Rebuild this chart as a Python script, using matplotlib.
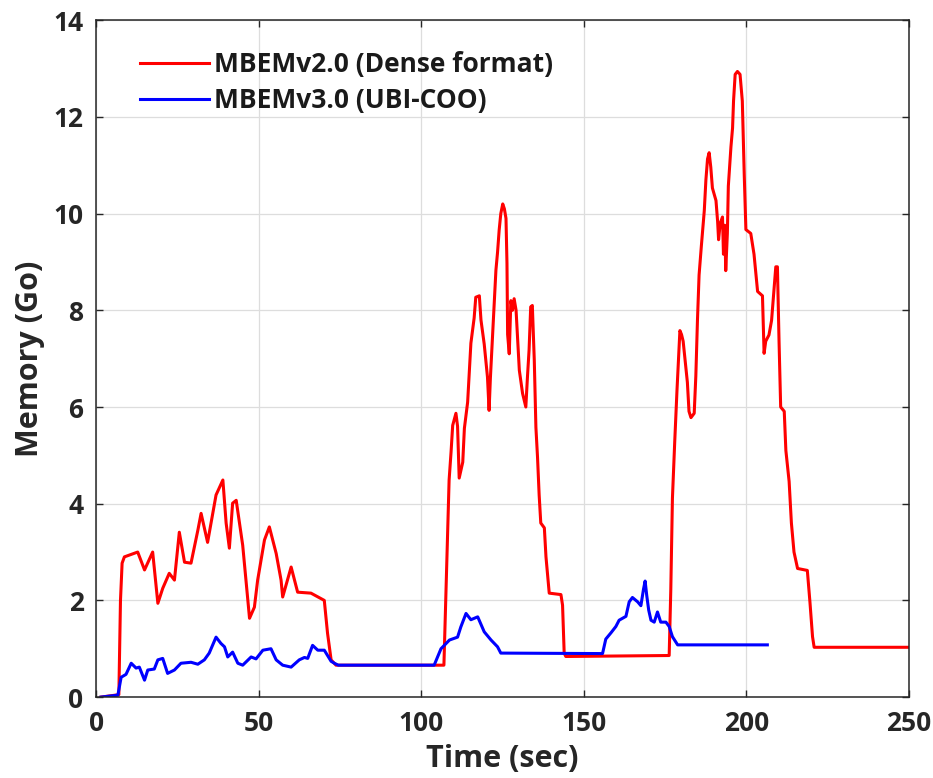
import matplotlib.pyplot as plt

# Mémoire consommée au cours du temps
t_dense = [1.5, 7.0, 7.5, 8.0, 8.7, 12.8, 14.9, 17.4, 19.0, 20.5, 22.5, 24.1, 25.6, 27.2,
           29.2, 31.3, 32.3, 34.3, 36.9, 39.0, 40.0, 41.0, 42.0, 43.1, 45.1, 47.2, 48.7,
           49.7, 51.8, 53.3, 55.4, 56.9, 57.4, 60.0, 62.0, 66.1, 70.2, 71.2, 72.3, 73.8,
           107.0, 107.6, 108.1, 108.6, 109.2, 109.7, 110.7, 111.2, 111.7, 112.8, 113.3,
           114.3, 114.8, 115.3, 116.3, 116.8, 117.9, 118.4, 119.4, 120.4, 120.9, 121.3,
           122.0, 122.5, 123.0, 123.5, 124.0, 124.5, 125.1, 125.6, 126.1, 126.4, 126.6,
           127.1, 127.6, 128.1, 128.6, 129.2, 129.7, 130.2, 131.2, 132.2, 132.7, 133.2,
           133.7, 134.2, 134.8, 135.3, 135.8, 136.3, 136.8, 137.9, 138.4, 139.4, 143.0,
           143.5, 144.0, 144.5, 176.3, 176.8, 177.3, 178.0, 178.7, 179.2, 179.6, 180.1,
           180.6, 181.4, 181.9, 182.4, 183.0, 184.0, 184.5, 185.0, 185.5, 186.2, 187.1,
           187.6, 188.1, 188.6, 189.1, 189.6, 190.7, 191.2, 191.5, 192.0, 192.7, 193.0,
           193.4, 193.7, 194.2, 194.5, 195.3, 195.8, 196.1, 196.6, 197.3, 198.1, 198.8,
           199.4, 199.9, 201.4, 202.4, 203.0, 203.5, 205.0, 205.5, 206.0, 207.0, 207.8,
           208.4, 209.1, 209.6, 210.1, 210.6, 211.7, 212.2, 213.2, 213.9, 214.7, 215.8,
           218.8, 219.6, 220.4, 220.9, 250.0]
m_dense = [0.0, 0.05, 2.0, 2.77, 2.9, 3.0, 2.63, 3.0, 1.94, 2.25, 2.56, 2.42, 3.41, 2.79,
           2.77, 3.45, 3.8, 3.2, 4.18, 4.49, 3.6, 3.08, 4.01, 4.07, 3.14, 1.63, 1.86,
           2.42, 3.25, 3.52, 2.97, 2.42, 2.07, 2.69, 2.17, 2.15, 2.0, 1.32, 0.77, 0.66,
           0.66, 2.07, 3.2, 4.49, 5.07, 5.62, 5.87, 5.6, 4.53, 4.86, 5.56, 6.1, 6.7,
           7.32, 7.84, 8.27, 8.3, 7.8, 7.3, 6.62, 5.93, 6.6, 7.53, 8.21, 8.83, 9.2, 9.66,
           10.0, 10.2, 10.1, 9.9, 8.97, 7.5, 7.1, 8.2, 8.0, 8.24, 8.0, 7.38, 6.76, 6.28,
           6.0, 6.62, 7.18, 8.07, 8.1, 6.97, 5.58, 4.96, 4.18, 3.6, 3.5, 2.9, 2.15, 2.12,
           1.9, 0.91, 0.84, 0.86, 2.23, 4.11, 5.27, 6.34, 7.02, 7.58, 7.5, 7.36,
           6.85, 6.51, 5.91, 5.78, 5.87, 6.64, 7.79, 8.73, 9.33, 10.06, 10.7, 11.13,
           11.26, 10.96, 10.53, 10.27, 9.84, 9.46, 9.8, 9.93, 9.16, 9.76, 8.82, 9.59,
           10.57, 11.38, 11.77, 12.33, 12.88, 12.94, 12.88, 12.33, 10.79, 9.67, 9.59,
           9.16, 8.73, 8.39, 8.3, 7.11, 7.36, 7.49, 7.79, 8.3, 8.9, 8.9, 7.36, 6.0, 5.91,
           5.1, 4.46, 3.6, 3.0, 2.66, 2.62, 1.97, 1.25, 1.03, 1.03]

t_coo = [1.5, 6.7, 7.7, 9.2, 10.8, 12.3, 13.3, 14.9, 15.9, 17.9, 19.0, 20.5, 22.0, 24.1,
         26.1, 29.2, 31.3, 33.3, 34.8, 36.9, 38.4, 39.5, 40.5, 42.0, 43.6, 45.1, 47.7,
         49.2, 51.3, 53.8, 55.4, 57.4, 60.0, 62.5, 64.1, 65.1, 66.6, 68.2, 70.2, 72.3,
         73.3, 74.5, 104.0, 106.1, 108.7, 111.2, 112.2, 113.8, 115.3, 117.4, 119.4,
         121.5, 123.5, 124.5, 155.8, 156.8, 158.4, 159.9, 160.9, 163.0, 164.0, 165.0,
         166.6, 167.6, 168.4, 168.9, 169.4, 170.0, 170.7, 171.7, 172.7, 173.7, 175.3,
         176.3, 177.3, 178.9, 206.5]
m_coo = [0.0, 0.04, 0.41, 0.47, 0.70, 0.6, 0.62, 0.35, 0.56, 0.58, 0.77, 0.8, 0.49, 0.56,
         0.70, 0.72, 0.68, 0.77, 0.91, 1.24, 1.11, 1.04, 0.83, 0.93, 0.70, 0.66, 0.83,
         0.79, 0.97, 1.0, 0.77, 0.66, 0.62, 0.77, 0.82, 0.8, 1.07, 0.97, 0.97, 0.74,
         0.70, 0.66, 0.66, 1.0, 1.18, 1.24, 1.45, 1.73, 1.6, 1.66, 1.35, 1.18, 1.04,
         0.91, 0.90, 1.2, 1.33, 1.46, 1.59, 1.67, 1.97, 2.06, 1.97, 1.89, 2.23, 2.40,
         2.1, 1.80, 1.59, 1.55, 1.76, 1.55, 1.55, 1.46, 1.25, 1.08, 1.08]

series_labels = ['MBEMv2.0 (Dense format)', 'MBEMv3.0 (UBI-COO)']

plt.rcParams['font.family'] = ['Open Sans', 'DejaVu Sans']
plt.rcParams['font.weight'] = 'bold'

fig = plt.figure(figsize=(9.33, 7.78), dpi=100)
ax = fig.add_axes([0.103, 0.104, 0.871, 0.870])

ax.plot(t_dense, m_dense, color='#ff0000', linewidth=2.2, label=series_labels[0])
ax.plot(t_coo, m_coo, color='#0000ff', linewidth=2.2, label=series_labels[1])

ax.set_xlim(0, 250)
ax.set_ylim(0, 14)
ax.set_xticks(range(0, 251, 50))
ax.set_yticks(range(0, 15, 2))
ax.grid(True, color='#dddddd', linewidth=0.9)
ax.set_axisbelow(True)

ax.tick_params(direction='in', length=5, width=1.0, top=True, right=True,
               labelsize=19, colors='#262626', pad=9)
for lbl in ax.get_xticklabels() + ax.get_yticklabels():
    lbl.set_fontweight('bold')
for s in ax.spines.values():
    s.set_color('#262626')
    s.set_linewidth(1.1)

ax.set_xlabel('Time (sec)', fontsize=22, fontweight='bold', color='#262626', labelpad=5)
ax.set_ylabel('Memory (Go)', fontsize=22, fontweight='bold', color='#262626', labelpad=6)

leg = ax.legend(loc='upper left', bbox_to_anchor=(0.025, 0.99), frameon=False,
                prop={'size': 19, 'weight': 'bold'}, handlelength=2.6,
                handletextpad=0.2, labelspacing=0.35)
for txt in leg.get_texts():
    txt.set_color('#1a1a1a')

fig.savefig('out.png', dpi=100)
